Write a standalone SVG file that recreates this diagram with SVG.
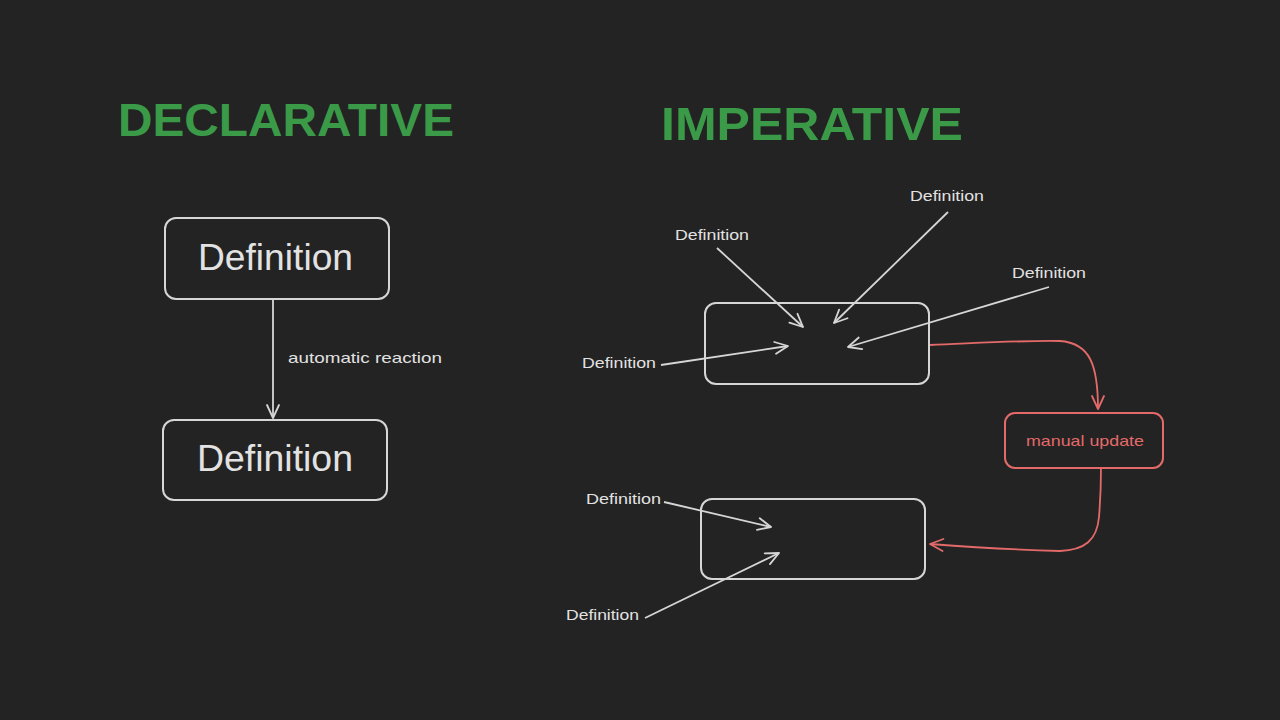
<svg xmlns="http://www.w3.org/2000/svg" width="1280" height="720" viewBox="0 0 1280 720">
<defs>
<style>
.bg{fill:#232323}
.title{font-family:"Liberation Sans",Arial,sans-serif;font-weight:bold;fill:#3a9a48}
.box{fill:none;stroke:#d6d6d6;stroke-width:2}
.rbox{fill:none;stroke:#e46a6a;stroke-width:2}
.big{font-family:"Liberation Sans",Arial,sans-serif;font-size:36px;fill:#e2e2e2}
.lbl{font-family:"Liberation Sans",Arial,sans-serif;font-size:15px;fill:#e2e2e2}
.rlbl{font-family:"Liberation Sans",Arial,sans-serif;font-size:15px;fill:#e46a6a}
.arr{fill:none;stroke:#d6d6d6;stroke-width:1.8;marker-end:url(#ah)}
.rarr{fill:none;stroke:#e46a6a;stroke-width:1.8;marker-end:url(#rah)}
</style>
<marker id="ah" markerUnits="userSpaceOnUse" markerWidth="20" markerHeight="20" refX="0" refY="0" viewBox="-16 -10 20 20" orient="auto" overflow="visible">
<path d="M-13,-6 L0,0 L-13,6" fill="none" stroke="#d6d6d6" stroke-width="1.8" stroke-linecap="round" stroke-linejoin="round"/>
</marker>
<marker id="rah" markerUnits="userSpaceOnUse" markerWidth="20" markerHeight="20" refX="0" refY="0" viewBox="-16 -10 20 20" orient="auto" overflow="visible">
<path d="M-13,-6 L0,0 L-13,6" fill="none" stroke="#e46a6a" stroke-width="1.8" stroke-linecap="round" stroke-linejoin="round"/>
</marker>
</defs>
<rect class="bg" x="0" y="0" width="1280" height="720"/>

<g id="title-declarative"><text class="title" x="118" y="136" font-size="46" textLength="336" lengthAdjust="spacingAndGlyphs">DECLARATIVE</text></g>
<g id="title-imperative"><text class="title" x="661" y="140" font-size="47" textLength="302" lengthAdjust="spacingAndGlyphs">IMPERATIVE</text></g>

<g id="decl-def1">
<rect class="box" x="165" y="218" width="224" height="81" rx="11"/>
<text class="big" x="198" y="270" textLength="155" lengthAdjust="spacingAndGlyphs">Definition</text>
</g>
<g id="decl-def2">
<rect class="box" x="163" y="420" width="224" height="80" rx="11"/>
<text class="big" x="197" y="471" textLength="156" lengthAdjust="spacingAndGlyphs">Definition</text>
</g>

<g id="imp-boxA"><rect class="box" x="705" y="303" width="224" height="81" rx="11"/></g>
<g id="imp-boxB"><rect class="box" x="701" y="499" width="224" height="80" rx="11"/></g>
<g id="manual-update">
<rect class="rbox" x="1005" y="413" width="158" height="55" rx="10"/>
<text class="rlbl" x="1026" y="446" textLength="118" lengthAdjust="spacingAndGlyphs">manual update</text>
</g>

<g id="def-label-1"><text class="lbl" x="675" y="240" textLength="74" lengthAdjust="spacingAndGlyphs">Definition</text></g>
<g id="def-label-2"><text class="lbl" x="910" y="201" textLength="74" lengthAdjust="spacingAndGlyphs">Definition</text></g>
<g id="def-label-3"><text class="lbl" x="1012" y="278" textLength="74" lengthAdjust="spacingAndGlyphs">Definition</text></g>
<g id="def-label-4"><text class="lbl" x="582" y="368" textLength="74" lengthAdjust="spacingAndGlyphs">Definition</text></g>
<g id="def-label-5"><text class="lbl" x="586" y="504" textLength="75" lengthAdjust="spacingAndGlyphs">Definition</text></g>
<g id="def-label-6"><text class="lbl" x="566" y="620" textLength="73" lengthAdjust="spacingAndGlyphs">Definition</text></g>

<g id="connectors">
<line class="arr" x1="273" y1="300" x2="273" y2="418"/>
<text class="lbl" x="288" y="363" textLength="154" lengthAdjust="spacingAndGlyphs">automatic reaction</text>
<line class="arr" x1="717" y1="248" x2="803" y2="327"/>
<line class="arr" x1="948" y1="212" x2="834" y2="323"/>
<line class="arr" x1="1049" y1="287" x2="848" y2="347"/>
<line class="arr" x1="661" y1="365" x2="788" y2="346"/>
<line class="arr" x1="664" y1="502" x2="771" y2="527"/>
<line class="arr" x1="645" y1="618" x2="779" y2="553"/>
<path class="rarr" d="M930,345 C980,343 1030,340 1060,341 C1090,343 1098,365 1098,409"/>
<path class="rarr" d="M1101,468 C1101,490 1100,505 1099,517 C1097,540 1085,550 1060,551 C1020,550 970,547 930,544"/>
</g>
</svg>
